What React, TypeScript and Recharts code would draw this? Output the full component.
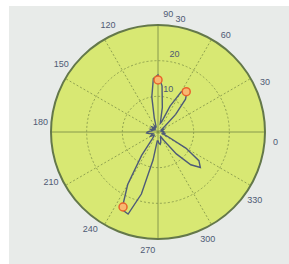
import { RadarChart, Radar, PolarGrid, PolarAngleAxis, PolarRadiusAxis } from "recharts";

// pattern sampled every 5 degrees, 0..355
const angles = [
  0, 5, 10, 15, 20, 25, 30, 35, 40, 45, 50, 55, 60, 65, 70, 75, 80, 85, 90, 95, 100, 105, 110, 115,
  120, 125, 130, 135, 140, 145, 150, 155, 160, 165, 170, 175, 180, 185, 190, 195, 200, 205, 210, 215,
  220, 225, 230, 235, 240, 245, 250, 255, 260, 265, 270, 275, 280, 285, 290, 295, 300, 305, 310, 315,
  320, 325, 330, 335, 340, 345, 350, 355,
];
const gain = [
  1.5, 1.2, 1.0, 1.3, 1.8, 1.5, 1.2, 2.5, 7, 12, 14.3, 13, 8, 3, 2.5, 7, 13, 16, 15, 10, 4, 1.5, 1.5, 2,
  1.5, 1.2, 1.8, 2.2, 1.5, 1.2, 1.8, 2.2, 1.6, 1.8, 2.4, 3, 3.2, 2.5, 1.8, 1.5, 2, 2.4, 1.8, 1.4,
  1.6, 2.5, 8, 17, 24, 24.5, 18, 8, 2.5, 2.5, 3.2, 3.5, 3, 2.2, 1.6, 1.5, 3, 8, 13, 15.5,
  14, 9, 3, 1.4, 1.6, 1.9, 1.6, 1.3,
];
// peak markers
const peakAngles = [50, 85, 240];
const peakValues = [13.8, 14.6, 23.2];

const angleLabels = [0, 30, 60, 90, 120, 150, 180, 210, 240, 270, 300, 330];
const radiusTicks = [10, 20, 30];

const data = angles.map((a, i) => {
  const k = peakAngles.indexOf(a);
  return { angle: a, gain: gain[i], peak: k >= 0 ? peakValues[k] : 0 };
});

const CX = 158;
const CY = 132;
const R = 107;

const AngleTick = (p: any) => {
  const v = p.payload?.value;
  if (!angleLabels.includes(v)) return <g />;
  return (
    <text x={p.x} y={p.y} textAnchor="middle" dominantBaseline="central" fontSize={9} fill="#4f5a74" fontFamily="Liberation Sans">
      {v}
    </text>
  );
};

const RadiusTick = (p: any) => (
  <text x={p.x + 4} y={p.y - 8} textAnchor="middle" dominantBaseline="central" fontSize={9} fill="#4f5a74" fontFamily="Liberation Sans">
    {p.payload?.value}
  </text>
);

const PeakDot = (p: any) => {
  const v = typeof p.value === "number" ? p.value : p.payload?.value;
  if (!v) return <g key={p.index} />;
  return <circle key={p.index} cx={p.cx} cy={p.cy} r={4} fill="#f8b870" stroke="#e8642c" strokeWidth={1.5} />;
};

export default function App() {
  return (
    <div style={{ position: "absolute", left: 0, top: 0, width: 289, height: 264, background: "#fff", overflow: "hidden" }}>
      <div style={{ position: "absolute", left: 9, top: 6, right: 0, bottom: 0, background: "#e8ebe9" }} />
      <div
        style={{
          position: "absolute",
          left: CX - R,
          top: CY - R,
          width: R * 2,
          height: R * 2,
          borderRadius: "50%",
          background: "#d8e873",
        }}
      />
      <div style={{ position: "absolute", left: 0, top: 0 }}>
        <RadarChart
          width={289}
          height={264}
          data={data}
          cx={CX}
          cy={CY}
          outerRadius={R}
          startAngle={0}
          endAngle={360}
          margin={{ top: 0, right: 0, bottom: 0, left: 0 }}
        >
          <PolarGrid
            gridType="circle"
            polarAngles={[30, 60, 120, 150, 210, 240, 300, 330]}
            polarRadius={[R / 3, (2 * R) / 3]}
            stroke="#889a4c"
            strokeDasharray="2 2"
            strokeWidth={0.9}
          />
          <PolarGrid gridType="circle" polarAngles={[0, 90, 180, 270]} polarRadius={[]} stroke="#7f9148" strokeWidth={0.9} />
          <PolarGrid gridType="circle" polarAngles={[]} polarRadius={[R]} stroke="#64784a" strokeWidth={2} />
          <PolarAngleAxis dataKey="angle" tick={AngleTick} tickLine={false} axisLine={false} tickSize={11} />
          <PolarRadiusAxis
            angle={80}
            type="number"
            domain={[0, 30]}
            ticks={radiusTicks}
            axisLine={false}
            tickLine={false}
            tick={RadiusTick}
          />
          <Radar dataKey="gain" stroke="#4e5b78" strokeWidth={1.4} fill="none" dot={false} isAnimationActive={false} />
          <Radar dataKey="peak" stroke="none" fill="none" dot={PeakDot} isAnimationActive={false} />
        </RadarChart>
      </div>
    </div>
  );
}
